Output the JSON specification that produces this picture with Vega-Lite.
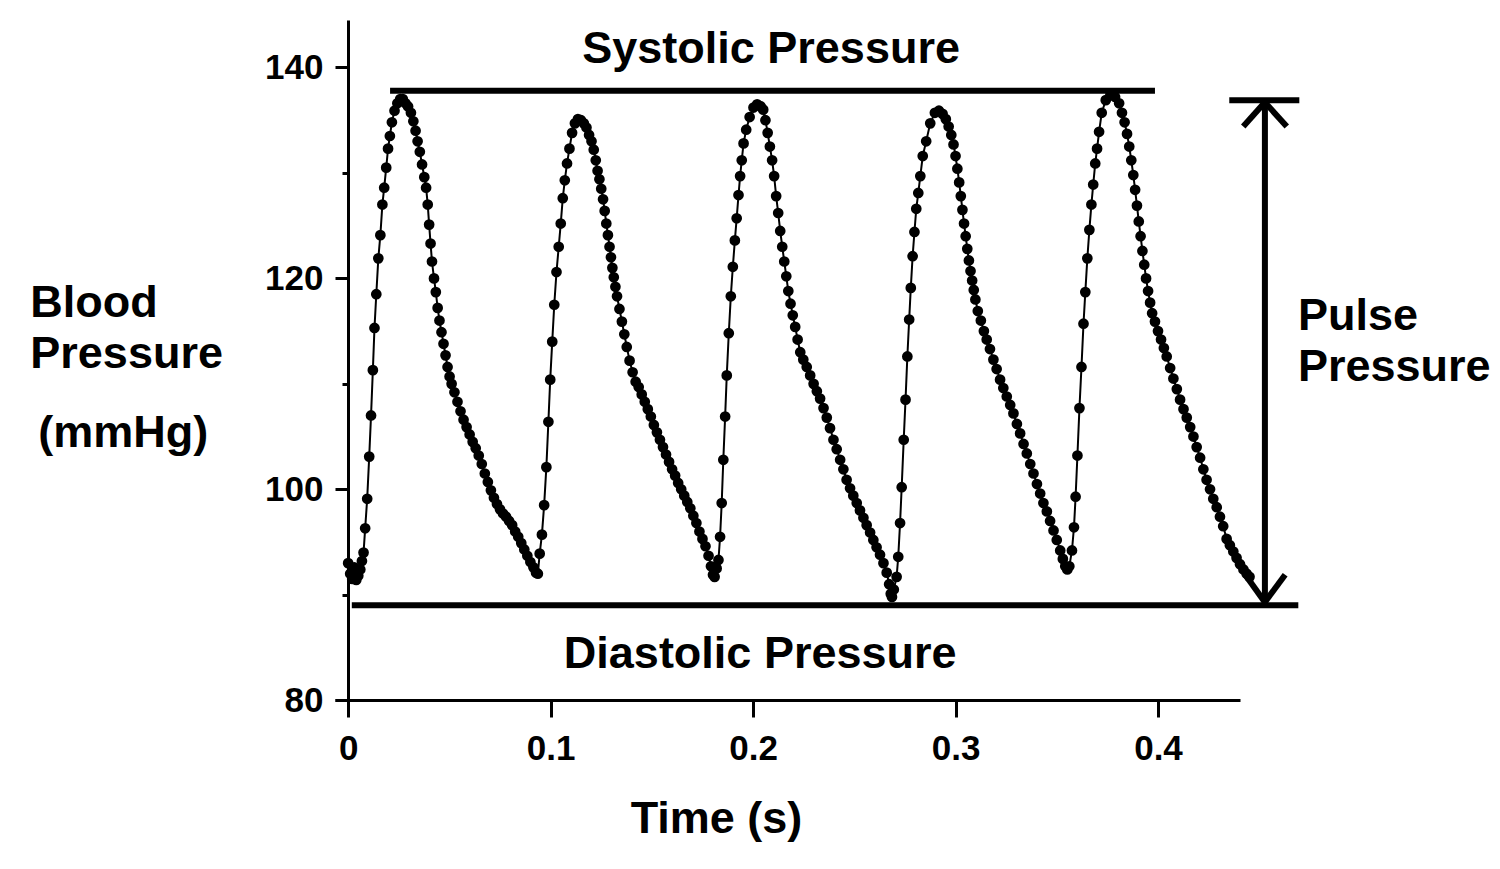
{
  "$schema": "https://vega.github.io/schema/vega-lite/v6.json",
  "width": 905,
  "height": 695,
  "autosize": "none",
  "padding": {"left": 335, "top": 20, "right": 260, "bottom": 154},
  "background": "white",
  "config": {"view": {"stroke": null}},
  "datasets": {
    "bp": [
      {"t":0,"p":93.0},{"t":0.001,"p":92.0},{"t":0.002,"p":91.5},{"t":0.003,"p":92.6},{"t":0.004,"p":91.4},{"t":0.005,"p":91.8},{"t":0.006,"p":92.4},{"t":0.0068,"p":93.2},
      {"t":0.0076,"p":94.0},{"t":0.0084,"p":96.3},{"t":0.0094,"p":99.1},{"t":0.0104,"p":103.1},{"t":0.0113,"p":107.0},{"t":0.0122,"p":111.3},{"t":0.013,"p":115.3},{"t":0.0139,"p":118.5},
      {"t":0.0149,"p":121.9},{"t":0.0159,"p":124.1},{"t":0.0169,"p":127.0},{"t":0.0178,"p":128.6},{"t":0.0188,"p":130.5},{"t":0.0197,"p":132.3},{"t":0.0206,"p":133.5},{"t":0.0216,"p":134.8},
      {"t":0.0229,"p":135.9},{"t":0.0243,"p":136.6},{"t":0.0257,"p":137.0},{"t":0.027,"p":137.0},{"t":0.0283,"p":136.6},{"t":0.0296,"p":136.3},{"t":0.031,"p":135.7},{"t":0.0322,"p":134.9},
      {"t":0.0333,"p":134.0},{"t":0.0343,"p":133.0},{"t":0.0354,"p":132.0},{"t":0.0365,"p":130.8},{"t":0.0376,"p":129.6},{"t":0.0385,"p":128.6},{"t":0.0393,"p":127.0},{"t":0.04,"p":125.1},
      {"t":0.0407,"p":123.3},{"t":0.0414,"p":121.6},{"t":0.0424,"p":120.0},{"t":0.0433,"p":118.7},{"t":0.0442,"p":117.2},{"t":0.0451,"p":116.0},{"t":0.0461,"p":114.9},{"t":0.0471,"p":113.8},
      {"t":0.0481,"p":112.7},{"t":0.0491,"p":111.6},{"t":0.0501,"p":110.7},{"t":0.0511,"p":110.0},{"t":0.0525,"p":109.2},{"t":0.054,"p":108.3},{"t":0.0555,"p":107.4},{"t":0.057,"p":106.6},
      {"t":0.0585,"p":105.9},{"t":0.06,"p":105.2},{"t":0.0615,"p":104.5},{"t":0.063,"p":103.9},{"t":0.0645,"p":103.2},{"t":0.066,"p":102.4},{"t":0.0675,"p":101.5},{"t":0.069,"p":100.7},
      {"t":0.0705,"p":99.9},{"t":0.072,"p":99.2},{"t":0.0735,"p":98.6},{"t":0.075,"p":98.1},{"t":0.0765,"p":97.7},{"t":0.078,"p":97.4},{"t":0.0795,"p":97.0},{"t":0.081,"p":96.6},
      {"t":0.0825,"p":96.0},{"t":0.084,"p":95.5},{"t":0.0855,"p":94.9},{"t":0.087,"p":94.3},{"t":0.0885,"p":93.7},{"t":0.09,"p":93.1},{"t":0.0915,"p":92.6},{"t":0.0928,"p":92.1},{"t":0.0937,"p":92.0},
      {"t":0.0946,"p":93.9},{"t":0.0957,"p":95.7},{"t":0.0968,"p":98.5},{"t":0.0979,"p":102.1},{"t":0.0989,"p":106.4},{"t":0.0998,"p":110.4},{"t":0.1008,"p":114.0},{"t":0.1018,"p":117.5},
      {"t":0.1029,"p":120.6},{"t":0.104,"p":123.0},{"t":0.105,"p":125.2},{"t":0.106,"p":127.6},{"t":0.107,"p":129.3},{"t":0.1081,"p":130.9},{"t":0.1093,"p":132.3},{"t":0.1106,"p":133.8},
      {"t":0.112,"p":134.7},{"t":0.1135,"p":135.1},{"t":0.115,"p":135.0},{"t":0.1164,"p":134.7},{"t":0.1177,"p":134.3},{"t":0.119,"p":133.6},{"t":0.1202,"p":133.0},{"t":0.1213,"p":132.2},
      {"t":0.1223,"p":131.2},{"t":0.1232,"p":130.2},{"t":0.1241,"p":129.4},{"t":0.125,"p":128.5},{"t":0.1259,"p":127.5},{"t":0.1267,"p":126.4},{"t":0.1275,"p":125.2},{"t":0.1283,"p":124.1},
      {"t":0.1291,"p":123.0},{"t":0.1298,"p":122.0},{"t":0.1305,"p":121.0},{"t":0.1312,"p":120.1},{"t":0.132,"p":119.2},{"t":0.1328,"p":118.3},{"t":0.134,"p":117.1},{"t":0.1352,"p":115.9},
      {"t":0.1364,"p":114.7},{"t":0.1376,"p":113.5},{"t":0.139,"p":112.2},{"t":0.1405,"p":111.1},{"t":0.142,"p":110.2},{"t":0.1435,"p":109.7},{"t":0.145,"p":109.0},{"t":0.1465,"p":108.3},
      {"t":0.148,"p":107.6},{"t":0.1495,"p":106.9},{"t":0.151,"p":106.1},{"t":0.1525,"p":105.4},{"t":0.154,"p":104.7},{"t":0.1555,"p":104.0},{"t":0.157,"p":103.3},{"t":0.1585,"p":102.6},
      {"t":0.16,"p":101.9},{"t":0.1615,"p":101.3},{"t":0.163,"p":100.6},{"t":0.1645,"p":100.0},{"t":0.166,"p":99.4},{"t":0.1675,"p":98.8},{"t":0.169,"p":98.2},{"t":0.1705,"p":97.5},
      {"t":0.172,"p":96.8},{"t":0.1735,"p":96.0},{"t":0.175,"p":95.3},{"t":0.1765,"p":94.6},{"t":0.178,"p":93.7},{"t":0.1792,"p":92.7},{"t":0.1802,"p":91.9},{"t":0.181,"p":91.7},
      {"t":0.182,"p":92.5},{"t":0.1829,"p":93.3},{"t":0.1837,"p":95.5},{"t":0.1845,"p":98.7},{"t":0.1853,"p":102.8},{"t":0.1862,"p":106.9},{"t":0.187,"p":110.8},{"t":0.188,"p":114.8},
      {"t":0.189,"p":118.3},{"t":0.19,"p":121.1},{"t":0.191,"p":123.6},{"t":0.1919,"p":125.7},{"t":0.1928,"p":127.9},{"t":0.1936,"p":129.7},{"t":0.1944,"p":131.2},{"t":0.1953,"p":132.8},
      {"t":0.1966,"p":134.1},{"t":0.1983,"p":135.3},{"t":0.2002,"p":136.2},{"t":0.202,"p":136.5},{"t":0.2038,"p":136.3},{"t":0.205,"p":136.0},{"t":0.2061,"p":135.0},{"t":0.2072,"p":133.8},
      {"t":0.2083,"p":132.5},{"t":0.2094,"p":131.2},{"t":0.2104,"p":129.7},{"t":0.2114,"p":127.8},{"t":0.2124,"p":126.2},{"t":0.2134,"p":124.5},{"t":0.2144,"p":123.0},{"t":0.2154,"p":121.6},
      {"t":0.2164,"p":120.2},{"t":0.2174,"p":118.8},{"t":0.2185,"p":117.6},{"t":0.2196,"p":116.5},{"t":0.2208,"p":115.4},{"t":0.222,"p":114.2},{"t":0.2233,"p":113.0},{"t":0.2248,"p":112.3},
      {"t":0.2265,"p":111.6},{"t":0.2282,"p":110.8},{"t":0.2299,"p":110.0},{"t":0.2315,"p":109.3},{"t":0.2331,"p":108.6},{"t":0.2348,"p":107.7},{"t":0.2364,"p":106.8},{"t":0.238,"p":105.8},
      {"t":0.2397,"p":104.7},{"t":0.2413,"p":103.8},{"t":0.243,"p":102.8},{"t":0.2446,"p":101.9},{"t":0.2462,"p":100.9},{"t":0.2479,"p":100.1},{"t":0.2495,"p":99.4},{"t":0.2512,"p":98.7},
      {"t":0.2528,"p":98.0},{"t":0.2545,"p":97.3},{"t":0.2561,"p":96.6},{"t":0.2578,"p":95.9},{"t":0.2594,"p":95.2},{"t":0.261,"p":94.5},{"t":0.2627,"p":93.8},{"t":0.2644,"p":93.0},
      {"t":0.266,"p":92.1},{"t":0.2672,"p":91.0},{"t":0.268,"p":90.1},{"t":0.2686,"p":89.8},
      {"t":0.2695,"p":90.5},{"t":0.2709,"p":91.7},{"t":0.2717,"p":93.6},{"t":0.2726,"p":96.8},{"t":0.2734,"p":100.2},{"t":0.2744,"p":104.7},{"t":0.2753,"p":108.5},{"t":0.2762,"p":112.6},
      {"t":0.2771,"p":116.1},{"t":0.2779,"p":119.1},{"t":0.2788,"p":122.1},{"t":0.2797,"p":124.4},{"t":0.2806,"p":126.6},{"t":0.2816,"p":128.1},{"t":0.2826,"p":129.7},{"t":0.2838,"p":131.6},
      {"t":0.2855,"p":133.0},{"t":0.2875,"p":134.7},{"t":0.2898,"p":135.7},{"t":0.2918,"p":135.9},{"t":0.2936,"p":135.6},{"t":0.2952,"p":135.1},{"t":0.2966,"p":134.4},{"t":0.2979,"p":133.6},
      {"t":0.299,"p":132.7},{"t":0.3,"p":131.6},{"t":0.3009,"p":130.4},{"t":0.3018,"p":129.1},{"t":0.3026,"p":127.8},{"t":0.3034,"p":126.5},{"t":0.3042,"p":125.2},{"t":0.305,"p":124.0},
      {"t":0.3058,"p":122.8},{"t":0.3066,"p":121.7},{"t":0.3074,"p":120.7},{"t":0.3082,"p":119.8},{"t":0.309,"p":118.9},{"t":0.3098,"p":118.0},{"t":0.311,"p":116.9},{"t":0.3125,"p":116.0},
      {"t":0.314,"p":115.0},{"t":0.3154,"p":114.2},{"t":0.317,"p":113.3},{"t":0.3187,"p":112.3},{"t":0.3203,"p":111.4},{"t":0.322,"p":110.4},{"t":0.3236,"p":109.6},{"t":0.3253,"p":108.8},
      {"t":0.327,"p":108.0},{"t":0.3286,"p":107.2},{"t":0.3303,"p":106.2},{"t":0.3319,"p":105.3},{"t":0.3336,"p":104.3},{"t":0.3352,"p":103.4},{"t":0.3369,"p":102.4},{"t":0.3385,"p":101.5},
      {"t":0.3402,"p":100.5},{"t":0.3418,"p":99.6},{"t":0.3434,"p":98.7},{"t":0.3451,"p":97.9},{"t":0.3467,"p":97.0},{"t":0.3484,"p":96.1},{"t":0.35,"p":95.2},{"t":0.3517,"p":94.2},
      {"t":0.353,"p":93.4},{"t":0.3542,"p":92.7},{"t":0.3552,"p":92.4},
      {"t":0.3562,"p":92.7},{"t":0.3575,"p":94.2},{"t":0.3585,"p":96.4},{"t":0.3593,"p":99.3},{"t":0.3602,"p":103.2},{"t":0.3612,"p":107.7},{"t":0.3622,"p":111.6},{"t":0.3632,"p":115.7},
      {"t":0.3641,"p":118.7},{"t":0.3651,"p":121.9},{"t":0.3661,"p":124.6},{"t":0.3671,"p":127.0},{"t":0.368,"p":128.9},{"t":0.369,"p":130.9},{"t":0.3699,"p":132.3},{"t":0.3709,"p":133.9},
      {"t":0.3722,"p":135.7},{"t":0.3742,"p":136.9},{"t":0.3765,"p":137.4},{"t":0.3788,"p":137.2},{"t":0.3808,"p":136.6},{"t":0.3822,"p":135.7},{"t":0.3835,"p":134.8},{"t":0.3847,"p":133.7},
      {"t":0.3858,"p":132.5},{"t":0.3868,"p":131.2},{"t":0.3878,"p":129.8},{"t":0.3887,"p":128.4},{"t":0.3896,"p":126.9},{"t":0.3905,"p":125.4},{"t":0.3914,"p":124.0},{"t":0.3923,"p":122.6},
      {"t":0.3932,"p":121.3},{"t":0.3941,"p":120.0},{"t":0.3951,"p":118.8},{"t":0.3961,"p":117.7},{"t":0.3971,"p":116.7},{"t":0.3985,"p":115.9},{"t":0.4,"p":115.0},{"t":0.4015,"p":114.2},
      {"t":0.4029,"p":113.4},{"t":0.4043,"p":112.6},{"t":0.406,"p":111.5},{"t":0.4076,"p":110.5},{"t":0.4093,"p":109.5},{"t":0.4109,"p":108.5},{"t":0.4126,"p":107.6},{"t":0.4142,"p":106.8},
      {"t":0.4159,"p":105.9},{"t":0.4175,"p":105.0},{"t":0.4191,"p":104.0},{"t":0.4208,"p":103.0},{"t":0.4224,"p":101.9},{"t":0.424,"p":100.9},{"t":0.4257,"p":100.0},{"t":0.4273,"p":99.1},
      {"t":0.429,"p":98.3},{"t":0.4306,"p":97.4},{"t":0.4322,"p":96.5},{"t":0.4339,"p":95.3},{"t":0.4355,"p":94.7},{"t":0.4372,"p":94.1},{"t":0.4388,"p":93.5},{"t":0.4405,"p":92.9},
      {"t":0.4422,"p":92.4},{"t":0.4438,"p":92.0},{"t":0.4452,"p":91.7}
    ],
    "segs": [
      {"name":"systolic","t":0.0207,"p":137.8,"t2":0.3985,"p2":137.8},
      {"name":"diastolic","t":0.0018,"p":89.0,"t2":0.4693,"p2":89.0},
      {"name":"pulse top","t":0.4352,"p":136.9,"t2":0.4698,"p2":136.9},
      {"name":"pulse","t":0.4528,"p":136.9,"t2":0.4528,"p2":89.0},
      {"name":"head top left","t":0.4421,"p":134.4,"t2":0.4528,"p2":136.7},
      {"name":"head top right","t":0.4528,"p":136.7,"t2":0.4636,"p2":134.4},
      {"name":"head bottom left","t":0.4431,"p":91.9,"t2":0.4528,"p2":89.3},
      {"name":"head bottom right","t":0.4528,"p":89.3,"t2":0.4628,"p2":91.9}
    ],
    "notesCenter": [
      {"label":"Systolic Pressure","t":0.2089,"p":140.4},
      {"label":"Diastolic Pressure","t":0.2035,"p":83.1}
    ],
    "notesLeft": [
      {"label":"Blood","t":-0.157,"p":116.3},
      {"label":"Pressure","t":-0.157,"p":111.5},
      {"label":"(mmHg)","t":-0.1531,"p":104.0},
      {"label":"Pulse","t":0.4691,"p":115.1},
      {"label":"Pressure","t":0.4691,"p":110.3}
    ]
  },
  "encoding": {
    "x": {
      "field": "t",
      "type": "quantitative",
      "scale": {"domain": [-0.0065, 0.4405], "nice": false, "zero": false},
      "axis": {
        "values": [0, 0.1, 0.2, 0.3, 0.4],
        "format": "~g",
        "offset": -15,
        "grid": false,
        "domainColor": "black",
        "domainWidth": 3,
        "tickColor": "black",
        "tickWidth": 3,
        "tickSize": 17,
        "labelFont": "Liberation Sans Narrow, Liberation Sans, Arial, sans-serif",
        "labelFontSize": 35,
        "labelFontWeight": "bold",
        "labelColor": "black",
        "labelPadding": 14,
        "title": "Time (s)",
        "titleFont": "Liberation Sans, Arial, sans-serif",
        "titleFontSize": 45,
        "titleFontWeight": "bold",
        "titleColor": "black",
        "titleX": 381,
        "titleY": 132,
        "titleAlign": "center",
        "titleBaseline": "alphabetic"
      }
    },
    "y": {
      "field": "p",
      "type": "quantitative",
      "scale": {"domain": [78.6, 144.5], "nice": false, "zero": false},
      "axis": {
        "values": [80, 90, 100, 110, 120, 130, 140],
        "labelExpr": "datum.value % 20 === 0 ? datum.label : ''",
        "offset": -13,
        "grid": false,
        "domainColor": "black",
        "domainWidth": 3,
        "tickColor": "black",
        "tickWidth": 3,
        "tickSize": {"condition": {"test": "datum.value % 20 === 0", "value": 13}, "value": 6},
        "labelFont": "Liberation Sans Narrow, Liberation Sans, Arial, sans-serif",
        "labelFontSize": 35,
        "labelFontWeight": "bold",
        "labelColor": "black",
        "labelPadding": 12,
        "title": null
      }
    }
  },
  "layer": [
    {
      "data": {"name": "bp"},
      "mark": {"type": "line", "color": "black", "strokeWidth": 2, "clip": false}
    },
    {
      "data": {"name": "bp"},
      "mark": {"type": "point", "shape": "circle", "filled": true, "size": 115, "color": "black", "opacity": 1, "clip": false}
    },
    {
      "data": {"name": "segs"},
      "mark": {"type": "rule", "color": "black", "strokeWidth": 6, "strokeCap": "butt", "clip": false},
      "encoding": {
        "x2": {"field": "t2"},
        "y2": {"field": "p2"}
      }
    },
    {
      "data": {"name": "notesCenter"},
      "mark": {"type": "text", "align": "center", "baseline": "alphabetic", "font": "Liberation Sans, Arial, sans-serif", "fontSize": 45, "fontWeight": "bold", "color": "black", "clip": false},
      "encoding": {"text": {"field": "label"}}
    },
    {
      "data": {"name": "notesLeft"},
      "mark": {"type": "text", "align": "left", "baseline": "alphabetic", "font": "Liberation Sans, Arial, sans-serif", "fontSize": 45, "fontWeight": "bold", "color": "black", "clip": false},
      "encoding": {"text": {"field": "label"}}
    }
  ]
}
